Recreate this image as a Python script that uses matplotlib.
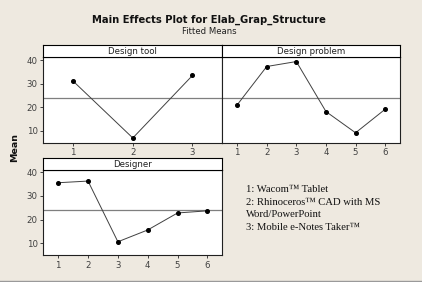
import matplotlib
matplotlib.use("Agg")
import matplotlib.pyplot as plt

W, H = 422, 282
BG = "#EEE9E0"

tool_levels = [1, 2, 3]
tool_means = [31.1, 7.0, 33.5]
problem_levels = [1, 2, 3, 4, 5, 6]
problem_means = [21.0, 37.3, 39.4, 18.2, 9.2, 19.2]
designer_levels = [1, 2, 3, 4, 5, 6]
designer_means = [35.6, 36.3, 10.6, 15.6, 22.8, 23.7]
grand_mean = 24.0
yticks = [10, 20, 30, 40]
legend_lines = ["1: Wacom\u2122 Tablet",
                "2: Rhinoceros\u2122 CAD with MS",
                "Word/PowerPoint",
                "3: Mobile e-Notes Taker\u2122"]

fig = plt.figure(figsize=(W/100, H/100), dpi=100)
fig.patch.set_facecolor(BG)

def px_axes(x0, y0, x1, y1):
    return fig.add_axes([x0/W, 1 - y1/H, (x1-x0)/W, (y1-y0)/H])

TICKC = "#404040"

def panel(x0, x1, ytop_header, ytop, ybot, levels, means, title, show_y):
    ax = px_axes(x0, ytop, x1, ybot)
    ax.set_facecolor("white")
    ax.plot(levels, means, color="#404040", lw=0.7, marker="o", ms=2.6,
            mfc="black", mec="black", zorder=3)
    ax.axhline(grand_mean, color="#7f7f7f", lw=0.9, zorder=1)
    ax.set_xlim(0.5, len(levels) + 0.5)
    ax.set_ylim(5.0, 41.2)
    ax.set_xticks(levels)
    ax.set_xticklabels([str(v) for v in levels])
    ax.set_yticks(yticks)
    ax.tick_params(axis="both", labelsize=6.2, colors=TICKC, length=2.5, width=0.7, pad=1.5)
    if not show_y:
        ax.tick_params(axis="y", left=False, labelleft=False)
    for s in ax.spines.values():
        s.set_color("#202020")
        s.set_linewidth(0.8)
    hx = px_axes(x0, ytop_header, x1, ytop)
    hx.set_facecolor("white")
    hx.set_xticks([]); hx.set_yticks([])
    for s in hx.spines.values():
        s.set_color("black")
        s.set_linewidth(0.8)
    hx.text(0.5, 0.45, title, ha="center", va="center", fontsize=6.2, color="#202020",
            transform=hx.transAxes)
    return ax

panel(43.3, 222.3, 45, 57.3, 142.7, tool_levels, tool_means, "Design tool", True)
panel(222.3, 400, 45, 57.3, 142.7, problem_levels, problem_means, "Design problem", False)
panel(43.3, 222.3, 158.3, 169.5, 255, designer_levels, designer_means, "Designer", True)

fig.text(209/W, 1 - 20/H, "Main Effects Plot for Elab_Grap_Structure", ha="center",
         va="center", fontsize=7.2, fontweight="bold", color="#111111")
fig.text(209/W, 1 - 32/H, "Fitted Means", ha="center", va="center", fontsize=6.1,
         color="#222222")
fig.text(15/W, 1 - 148/H, "Mean", rotation=90, ha="center", va="center",
         fontsize=6.8, fontweight="bold", color="#111111")

ys = [190, 202.3, 214.3, 227]
for t, y in zip(legend_lines, ys):
    fig.text(246/W, 1 - y/H, t, ha="left", va="center", fontsize=7.7,
             family="Liberation Serif", color="#111111")

# bottom border line
line_ax = fig.add_axes([0, 0, 1, 1], facecolor="none")
line_ax.set_xlim(0, W); line_ax.set_ylim(H, 0)
line_ax.axis("off")
line_ax.plot([0, W], [280.5, 280.5], color="#9a9a9a", lw=1)

fig.savefig("out.png", dpi=100, facecolor=BG)
